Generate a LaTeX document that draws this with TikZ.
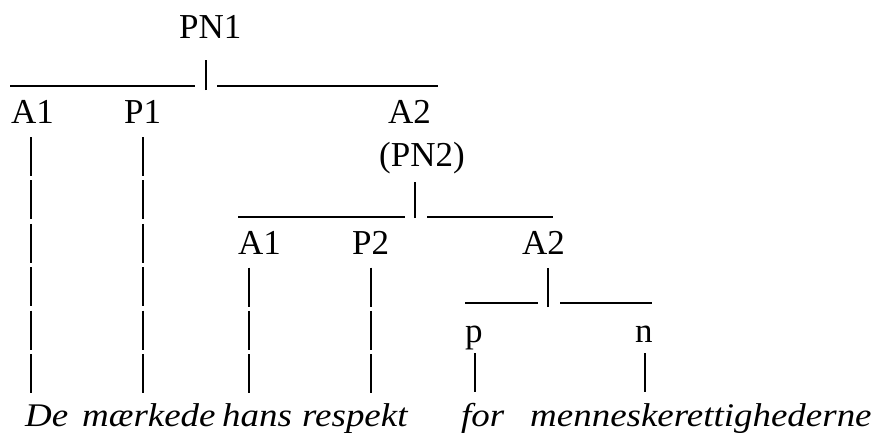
\documentclass[tikz,border=0pt]{standalone}
\usepackage{fontspec}
\setmainfont{Liberation Serif}
\newfontfamily\wordfont{Liberation Serif}[FakeStretch=1.12]
\usetikzlibrary{calc}
\tikzset{
  tree label/.style={
    anchor=base west,
    inner sep=0pt,
    font=\fontsize{35}{40}\selectfont,
  },
  tree word/.style={
    anchor=base west,
    inner sep=0pt,
    font=\wordfont\itshape\fontsize{33}{40}\selectfont,
  },
  tree pipe/.style={
    line width=2pt,
    dash pattern=on 39pt off 4.4pt,
  },
  tree bar/.style={
    line width=1.7pt,
  },
}
\begin{document}
\begin{tikzpicture}[x=1pt,y=-1pt]
  \useasboundingbox (0,0) rectangle (882,432);

  % clause level
  \node[tree label] (pn1) at (179,38) {PN1};
  \node[tree label] (a1) at (11,123) {A1};
  \node[tree label] (p1) at (124,123) {P1};
  \node[tree label] (a2) at (388,123) {A2};
  \node[tree label] (pn2) at (379,166) {(PN2)};

  % embedded phrase
  \node[tree label] (a1b) at (238,254) {A1};
  \node[tree label] (p2) at (352,254) {P2};
  \node[tree label] (a2b) at (522,254) {A2};
  \node[tree label] (prep) at (465,342) {p};
  \node[tree label] (noun) at (635,342) {n};

  % the sentence
  \node[tree word] (de) at (25,426) {De};
  \node[tree word] (maerkede) at (82,426) {mærkede};
  \node[tree word] (hans) at (222,426) {hans};
  \node[tree word] (respekt) at (302,426) {respekt};
  \node[tree word] (for) at (461,426) {for};
  \node[tree word] (menneske) at (530,426) {menneskerettighederne};

  % brackets under PN1, PN2 and A2
  \coordinate (j1) at (206,86);
  \coordinate (j2) at (415,217);
  \coordinate (j3) at (548,303);
  \draw[tree bar] (10,86) -- ($(j1)+(-11,0)$);
  \draw[tree bar] ($(j1)+(11,0)$) -- (438,86);
  \draw[tree bar] (238,217) -- ($(j2)+(-10,0)$);
  \draw[tree bar] ($(j2)+(12,0)$) -- (553,217);
  \draw[tree bar] (465,303) -- ($(j3)+(-10,0)$);
  \draw[tree bar] ($(j3)+(12,0)$) -- (652,303);
  \draw[tree pipe, shorten >=22pt] ([yshift=-4pt]j1) -- (j1 |- pn1.base);
  \draw[tree pipe, shorten >=16pt] ([yshift=-1pt]j2) -- (j2 |- pn2.base);
  \draw[tree pipe, shorten >=14pt] ([yshift=-4pt]j3) -- (j3 |- a2b.base);

  % lines down to the words
  \draw[tree pipe, shorten <=14pt, shorten >=33pt] ([xshift=-2pt]a1.base) -- ([xshift=-2pt]a1.base |- de.base);
  \draw[tree pipe, shorten <=14pt, shorten >=33pt] (p1.base) -- (p1.base |- maerkede.base);
  \draw[tree pipe, shorten <=13.5pt, shorten >=33pt] ([xshift=-11pt]a1b.base) -- ([xshift=-11pt]a1b.base |- hans.base);
  \draw[tree pipe, shorten <=13.5pt, shorten >=33pt] (p2.base) -- (p2.base |- respekt.base);
  \draw[tree pipe, shorten <=11pt, shorten >=33pt] ([xshift=1pt]prep.base) -- ([xshift=1pt]prep.base |- for.base);
  \draw[tree pipe, shorten <=11pt, shorten >=33pt] ([xshift=1pt]noun.base) -- ([xshift=1pt]noun.base |- menneske.base);
\end{tikzpicture}
\end{document}
